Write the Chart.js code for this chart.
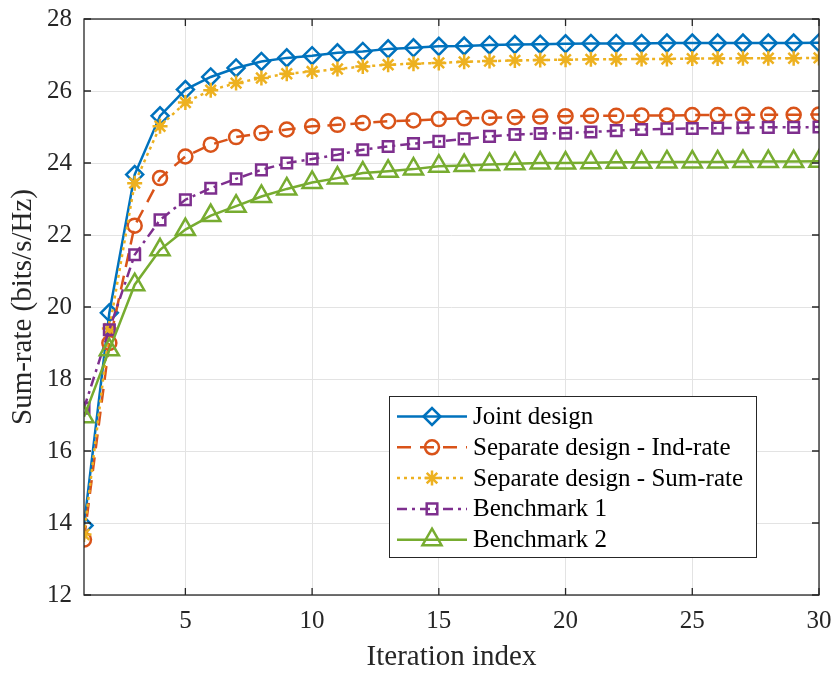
<!DOCTYPE html>
<html>
<head>
<meta charset="utf-8">
<script src="https://cdn.jsdelivr.net/npm/chart.js@4/dist/chart.umd.min.js"></script>
<style>
  html, body { margin: 0; padding: 0; background: #fff; }
  #wrap { width: 836px; height: 675px; }
</style>
</head>
<body>
<div id="wrap"><canvas id="chart" width="836" height="675"></canvas></div>
<script>
// x 값 (반복 횟수)
const iterations = [1, 2, 3, 4, 5, 6, 7, 8, 9, 10, 11, 12, 13, 14, 15,
    16, 17, 18, 19, 20, 21, 22, 23, 24, 25, 26, 27, 28, 29, 30];

// 시리즈 값
const jointDesign = [13.93, 19.84, 23.68, 25.31, 26.04, 26.39, 26.64, 26.82, 26.92, 26.98,
    27.06, 27.10, 27.17, 27.20, 27.24, 27.25, 27.28, 27.29, 27.30, 27.31,
    27.32, 27.32, 27.32, 27.33, 27.33, 27.33, 27.33, 27.33, 27.33, 27.34];
const sepIndRate = [13.54, 19.00, 22.26, 23.58, 24.18, 24.51, 24.72, 24.83, 24.93, 25.02,
    25.06, 25.11, 25.16, 25.18, 25.22, 25.24, 25.26, 25.27, 25.29, 25.30,
    25.31, 25.31, 25.32, 25.32, 25.33, 25.33, 25.34, 25.34, 25.34, 25.35];
const sepSumRate = [13.68, 19.40, 23.44, 25.02, 25.68, 26.02, 26.22, 26.36, 26.48, 26.54,
    26.61, 26.68, 26.73, 26.76, 26.78, 26.81, 26.83, 26.85, 26.86, 26.87,
    26.88, 26.88, 26.89, 26.89, 26.90, 26.90, 26.91, 26.91, 26.91, 26.92];
const benchmark1 = [17.19, 19.37, 21.45, 22.42, 22.98, 23.30, 23.56, 23.81, 24.00, 24.11,
    24.23, 24.37, 24.46, 24.54, 24.60, 24.67, 24.74, 24.79, 24.82, 24.83,
    24.86, 24.90, 24.93, 24.95, 24.96, 24.97, 24.98, 24.99, 24.99, 25.00];
const benchmark2 = [16.95, 18.81, 20.62, 21.59, 22.15, 22.54, 22.80, 23.07, 23.28, 23.46,
    23.58, 23.72, 23.77, 23.83, 23.91, 23.93, 23.96, 23.98, 24.00, 24.00,
    24.01, 24.02, 24.02, 24.03, 24.03, 24.03, 24.04, 24.04, 24.04, 24.05];

// 축 눈금
const xTicks = [5, 10, 15, 20, 25, 30];
const yTicks = [12, 14, 16, 18, 20, 22, 24, 26, 28];

const labels = ['Joint design', 'Separate design - Ind-rate', 'Separate design - Sum-rate',
    'Benchmark 1', 'Benchmark 2'];

const FONT = "'Liberation Serif', 'Times New Roman', serif";
const AXIS_COLOR = '#262626';

// 시리즈 스타일 (MATLAB 기본 색상)
const styles = [
    { color: '#0072BD', dash: [], point: 'rectRot', radius: 8.5 },
    { color: '#D95319', dash: [14, 9], point: 'circle', radius: 7 },
    { color: '#EDB120', dash: [3, 4], point: 'star', radius: 7.5 },
    { color: '#7E2F8E', dash: [10, 5, 3, 5], point: 'rect', radius: 7.5 },
    { color: '#77AC30', dash: [], point: 'triangle', radius: 11 }
];

const seriesValues = [jointDesign, sepIndRate, sepSumRate, benchmark1, benchmark2];

const datasets = seriesValues.map((values, i) => ({
    label: labels[i],
    data: values.map((v, k) => ({ x: iterations[k], y: v })),
    borderColor: styles[i].color,
    borderWidth: 2.5,
    borderDash: styles[i].dash,
    pointStyle: styles[i].point,
    pointRadius: styles[i].radius,
    pointBorderColor: styles[i].color,
    pointBackgroundColor: 'rgba(0,0,0,0)',
    pointBorderWidth: 2.5,
    tension: 0,
    fill: false,
    order: seriesValues.length - 1 - i
}));

// 축 테두리 + 안쪽 눈금
const framePlugin = {
    id: 'frame',
    afterDatasetsDraw(chart) {
        const { ctx, chartArea: a, scales } = chart;
        ctx.save();
        ctx.strokeStyle = AXIS_COLOR;
        ctx.lineWidth = 1.3;
        ctx.setLineDash([]);
        ctx.strokeRect(a.left, a.top, a.right - a.left, a.bottom - a.top);
        const tl = 7;
        ctx.beginPath();
        xTicks.forEach(v => {
            const px = scales.x.getPixelForValue(v);
            ctx.moveTo(px, a.bottom); ctx.lineTo(px, a.bottom - tl);
            ctx.moveTo(px, a.top); ctx.lineTo(px, a.top + tl);
        });
        yTicks.forEach(v => {
            const py = scales.y.getPixelForValue(v);
            ctx.moveTo(a.left, py); ctx.lineTo(a.left + tl, py);
            ctx.moveTo(a.right, py); ctx.lineTo(a.right - tl, py);
        });
        ctx.stroke();
        ctx.restore();
    }
};

// 플롯 안쪽 범례 (MATLAB 스타일)
const legendPlugin = {
    id: 'innerLegend',
    afterDraw(chart) {
        const { ctx } = chart;
        const box = { left: 389, top: 396, right: 756, bottom: 557 };
        ctx.save();
        ctx.fillStyle = '#fff';
        ctx.fillRect(box.left, box.top, box.right - box.left, box.bottom - box.top);
        ctx.strokeStyle = AXIS_COLOR;
        ctx.lineWidth = 1;
        ctx.strokeRect(box.left + 0.5, box.top + 0.5, box.right - box.left, box.bottom - box.top);
        const rowH = 30.8;
        chart.data.datasets.forEach((ds, i) => {
            const y = box.top + 20.5 + i * rowH;
            const x0 = box.left + 8, x1 = box.left + 78, xm = (x0 + x1) / 2;
            ctx.strokeStyle = ds.borderColor;
            ctx.lineWidth = ds.borderWidth;
            ctx.setLineDash(ds.borderDash);
            ctx.beginPath();
            ctx.moveTo(x0, y); ctx.lineTo(x1, y);
            ctx.stroke();
            ctx.setLineDash([]);
            ctx.fillStyle = 'rgba(0,0,0,0)';
            ctx.strokeStyle = ds.pointBorderColor;
            ctx.lineWidth = ds.pointBorderWidth;
            Chart.helpers.drawPoint(ctx, {
                pointStyle: ds.pointStyle,
                radius: ds.pointRadius,
                borderWidth: ds.pointBorderWidth,
                rotation: 0
            }, xm, y);
            ctx.fillStyle = '#000';
            ctx.font = '25px ' + FONT;
            ctx.textBaseline = 'middle';
            ctx.textAlign = 'left';
            ctx.fillText(ds.label, box.left + 84, y + 1);
        });
        ctx.restore();
    }
};

new Chart(document.getElementById('chart').getContext('2d'), {
    type: 'line',
    data: { datasets },
    options: {
        responsive: false,
        animation: false,
        layout: { padding: { top: 19, right: 17, left: 0, bottom: 0 } },
        plugins: {
            legend: { display: false },
            tooltip: { enabled: false }
        },
        scales: {
            x: {
                type: 'linear',
                min: 1,
                max: 30,
                afterBuildTicks: (scale) => { scale.ticks = xTicks.map(v => ({ value: v })); },
                afterFit: (scale) => {
                    scale.height = 80;
                    scale.paddingLeft = 0;
                    scale.paddingRight = 0;
                },
                grid: { color: '#e3e3e3', lineWidth: 1, drawTicks: false },
                border: { display: false },
                ticks: {
                    color: AXIS_COLOR,
                    padding: 11,
                    maxRotation: 0,
                    font: { family: FONT, size: 25 }
                },
                title: {
                    display: true,
                    text: 'Iteration index',
                    color: AXIS_COLOR,
                    padding: { top: 0, bottom: 0 },
                    font: { family: FONT, size: 29 }
                }
            },
            y: {
                type: 'linear',
                min: 12,
                max: 28,
                afterBuildTicks: (scale) => { scale.ticks = yTicks.map(v => ({ value: v })); },
                afterFit: (scale) => {
                    scale.width = 84;
                    scale.paddingTop = 0;
                    scale.paddingBottom = 0;
                },
                grid: { color: '#e3e3e3', lineWidth: 1, drawTicks: false },
                border: { display: false },
                ticks: {
                    color: AXIS_COLOR,
                    padding: 12,
                    font: { family: FONT, size: 25 }
                },
                title: {
                    display: true,
                    text: 'Sum-rate (bits/s/Hz)',
                    color: AXIS_COLOR,
                    padding: { top: 6, bottom: 0 },
                    font: { family: FONT, size: 29 }
                }
            }
        }
    },
    plugins: [framePlugin, legendPlugin]
});
</script>
</body>
</html>
